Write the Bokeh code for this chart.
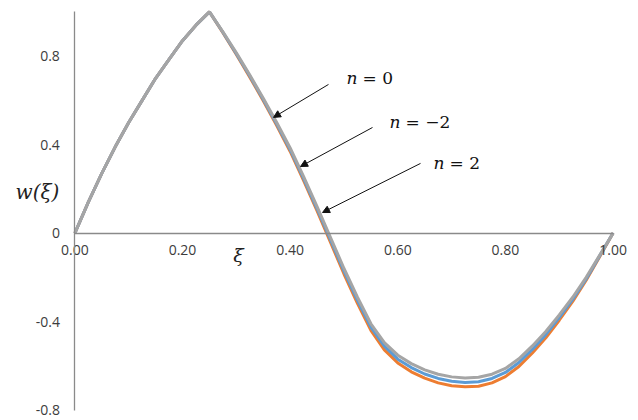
from bokeh.plotting import figure
from bokeh.models import Range1d, FixedTicker, Label, Arrow, NormalHead
from bokeh.embed import file_html
from bokeh.resources import INLINE

# Dimensionless position along the span
xi = [0.000, 0.025, 0.050, 0.075, 0.100, 0.125, 0.150, 0.175, 0.200, 0.225,
      0.250, 0.275, 0.300, 0.325, 0.350, 0.375, 0.400, 0.425, 0.450, 0.475,
      0.500, 0.525, 0.550, 0.575, 0.600, 0.625, 0.650, 0.675, 0.700, 0.725,
      0.750, 0.775, 0.800, 0.825, 0.850, 0.875, 0.900, 0.925, 0.950, 0.975, 1.000]

# Deflection w(xi) for each value of n
w_n0 = [0.00, 0.14, 0.27, 0.39, 0.50, 0.60, 0.70, 0.785, 0.87, 0.94,
        1.00, 0.908, 0.811, 0.710, 0.604, 0.493, 0.377, 0.246, 0.110, -0.031,
        -0.172, -0.304, -0.425, -0.511, -0.570, -0.608, -0.637, -0.657, -0.670, -0.675,
        -0.672, -0.657, -0.630, -0.585, -0.526, -0.459, -0.382, -0.300, -0.207, -0.103, 0.00]
w_nm2 = [0.00, 0.14, 0.27, 0.39, 0.50, 0.60, 0.70, 0.785, 0.87, 0.94,
         1.00, 0.906, 0.807, 0.705, 0.598, 0.486, 0.369, 0.237, 0.100, -0.042,
         -0.185, -0.318, -0.440, -0.528, -0.587, -0.627, -0.656, -0.677, -0.690, -0.695,
         -0.692, -0.677, -0.649, -0.603, -0.542, -0.473, -0.394, -0.309, -0.213, -0.107, 0.00]
w_n2 = [0.00, 0.14, 0.27, 0.39, 0.50, 0.60, 0.70, 0.785, 0.87, 0.94,
        1.00, 0.910, 0.815, 0.715, 0.610, 0.500, 0.385, 0.255, 0.120, -0.020,
        -0.160, -0.290, -0.410, -0.495, -0.552, -0.590, -0.618, -0.638, -0.650, -0.655,
        -0.652, -0.638, -0.612, -0.568, -0.510, -0.445, -0.370, -0.290, -0.200, -0.100, 0.00]

x_ticks = [0.0, 0.2, 0.4, 0.6, 0.8, 1.0]
x_tick_labels = ["0.00", "0.20", "0.40", "0.60", "0.80", "1.00"]
y_ticks = [-0.8, -0.4, 0.0, 0.4, 0.8]
y_tick_labels = ["-0.8", "-0.4", "0", "0.4", "0.8"]

# The frame fills the canvas so the axes crossing at the origin keep their labels
p = figure(width=638, height=420, output_backend="svg", toolbar_location=None,
           x_range=Range1d(-0.1382, 1.0472), y_range=Range1d(-0.8472, 1.0515),
           min_border_left=0, min_border_right=0, min_border_top=0, min_border_bottom=0)
p.outline_line_color = None
p.xgrid.visible = False
p.ygrid.visible = False
p.background_fill_color = "white"
p.border_fill_color = "white"

tick_font = "Open Sans"
tick_color = "#3c3c3c"
axis_color = "#8a8a8a"

xa = p.xaxis[0]
xa.fixed_location = 0
xa.bounds = (0, 1)
xa.ticker = FixedTicker(ticks=x_ticks)
xa.major_label_overrides = {t: s for t, s in zip(x_ticks, x_tick_labels)}
ya = p.yaxis[0]
ya.fixed_location = 0
ya.bounds = (-0.8, 1.0)
ya.ticker = FixedTicker(ticks=y_ticks)
ya.major_label_overrides = {t: s for t, s in zip(y_ticks, y_tick_labels)}
for ax in (xa, ya):
    ax.axis_line_color = axis_color
    ax.axis_line_width = 1.3
    ax.major_tick_line_color = None
    ax.minor_tick_line_color = None
    ax.major_tick_out = 0
    ax.major_tick_in = 0
    ax.minor_tick_out = 0
    ax.minor_tick_in = 0
    ax.major_label_text_font = tick_font
    ax.major_label_text_font_size = "14px"
    ax.major_label_text_color = tick_color
xa.major_label_standoff = 12
ya.major_label_standoff = 15

# Curves: orange under blue under grey
p.line(xi, w_nm2, line_color="#ED7D31", line_width=3)
p.line(xi, w_n0, line_color="#5B9BD5", line_width=3)
p.line(xi, w_n2, line_color="#A5A5A5", line_width=3)

serif = "DejaVu Serif"

# Axis titles
p.add_layout(Label(x=0.304, y=-0.101, text="ξ", text_font=serif, text_font_style="italic",
                   text_font_size="19px", text_align="center", text_baseline="middle",
                   text_color="#222222"))
p.add_layout(Label(x=-0.1103, y=0.188, text="w(ξ)", text_font=serif, text_font_style="italic",
                   text_font_size="20px", text_align="left", text_baseline="middle",
                   text_color="#222222"))

# Curve annotations: italic n, upright "= value"
for xn, xe, yb, rest in [(0.5047, 0.5344, 0.699, "= 0"),
                         (0.5846, 0.6143, 0.500, "= −2"),
                         (0.6663, 0.6961, 0.315, "= 2")]:
    p.add_layout(Label(x=xn, y=yb, text="n", text_font=serif, text_font_style="italic",
                       text_font_size="17px", text_align="left", text_baseline="alphabetic",
                       text_color="#111111"))
    p.add_layout(Label(x=xe, y=yb, text=rest, text_font=serif,
                       text_font_size="17px", text_align="left", text_baseline="alphabetic",
                       text_color="#111111"))

for xs, ys, xe, ye in [(0.4712, 0.672, 0.3690, 0.523),
                       (0.5530, 0.4775, 0.4192, 0.301),
                       (0.6422, 0.315, 0.4601, 0.093)]:
    p.add_layout(Arrow(end=NormalHead(size=7, fill_color="#111111", line_color="#111111"),
                       x_start=xs, y_start=ys, x_end=xe, y_end=ye,
                       line_color="#111111", line_width=1))

open("out.html", "w").write(file_html(p, INLINE))
